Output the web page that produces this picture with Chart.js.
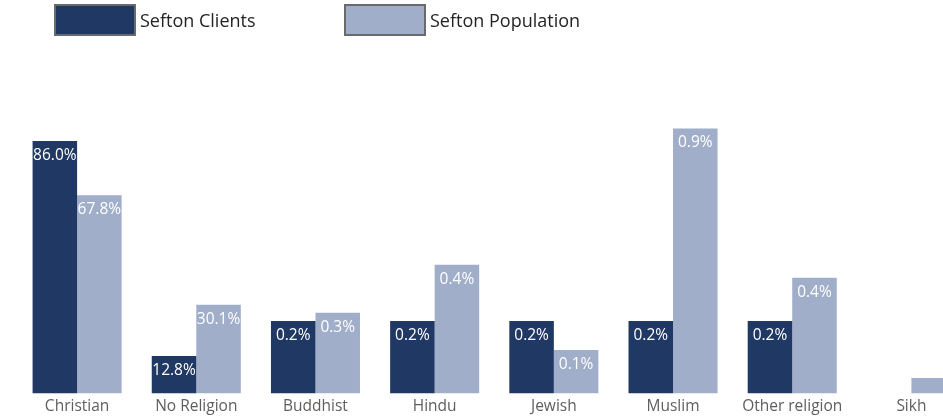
<!DOCTYPE html>
<html>
<head>
<meta charset="utf-8">
<script src="https://cdn.jsdelivr.net/npm/chart.js@4.4.0/dist/chart.umd.min.js"></script>
<style>
  html, body { margin: 0; padding: 0; background: #fff; overflow: hidden; }
  #wrap { position: relative; width: 975px; height: 419px; }
  .legend-item { position: absolute; top: 4px; height: 32px; display: flex; align-items: center;
    font-family: "Open Sans", sans-serif; font-size: 18px; color: #252423; }
  .legend-box { width: 78px; height: 28px; border: 2px solid #6a6a6a; margin-right: 4px; }
</style>
</head>
<body>
<div id="wrap">
  <canvas id="religionChart"></canvas>
  <div class="legend-item" style="left:54px"><span class="legend-box" style="background:#203864"></span>Sefton Clients</div>
  <div class="legend-item" style="left:344px"><span class="legend-box" style="background:#A0AECA"></span>Sefton Population</div>
</div>
<script>
const categories = ["Christian", "No Religion", "Buddhist", "Hindu", "Jewish", "Muslim", "Other religion", "Sikh"];

// bar heights as drawn in the picture (they are not to the same scale as the labels)
const clientValues = [252, 37.5, 72.5, 72.5, 72.5, 72.5, 72.5, 0];
const populationValues = [198, 88.5, 80.5, 128.5, 43.5, 264.5, 115.5, 15.5];

// labels printed on the bars
const clientLabels = ["86.0%", "12.8%", "0.2%", "0.2%", "0.2%", "0.2%", "0.2%", ""];
const populationLabels = ["67.8%", "30.1%", "0.3%", "0.4%", "0.1%", "0.9%", "0.4%", ""];

const darkBlue = "#203864";
const lightBlue = "#A0AECA";

// Draw value labels inside the top of each bar
const barLabels = {
  id: "barLabels",
  afterDatasetsDraw(chart) {
    const ctx = chart.ctx;
    const allLabels = [clientLabels, populationLabels];
    ctx.save();
    ctx.font = "15.5px 'Open Sans', sans-serif";
    ctx.fillStyle = "#ffffff";
    ctx.textAlign = "center";
    ctx.textBaseline = "middle";
    chart.data.datasets.forEach((ds, i) => {
      chart.getDatasetMeta(i).data.forEach((bar, j) => {
        const text = allLabels[i][j];
        if (text) ctx.fillText(text, bar.x, bar.y + 14.5);
      });
    });
    ctx.restore();
  },
};

new Chart(document.getElementById("religionChart"), {
  type: "bar",
  data: {
    labels: categories,
    datasets: [
      { label: "Sefton Clients", data: clientValues, backgroundColor: darkBlue },
      { label: "Sefton Population", data: populationValues, backgroundColor: lightBlue },
    ],
  },
  options: {
    responsive: true,
    maintainAspectRatio: false,
    animation: false,
    layout: { padding: { left: 17.5, right: 4, top: 93, bottom: 0 } },
    datasets: { bar: { categoryPercentage: 0.747, barPercentage: 1.0 } },
    plugins: {
      legend: { display: false },
      tooltip: { enabled: false },
    },
    scales: {
      x: {
        grid: { display: false, drawTicks: false },
        border: { display: false },
        ticks: {
          padding: 5,
          color: "#605E5C",
          font: { family: "'Open Sans', sans-serif", size: 15.5, lineHeight: 1.0 },
        },
      },
      y: { display: false, min: 0, max: 300 },
    },
  },
  plugins: [barLabels],
});
</script>
</body>
</html>
